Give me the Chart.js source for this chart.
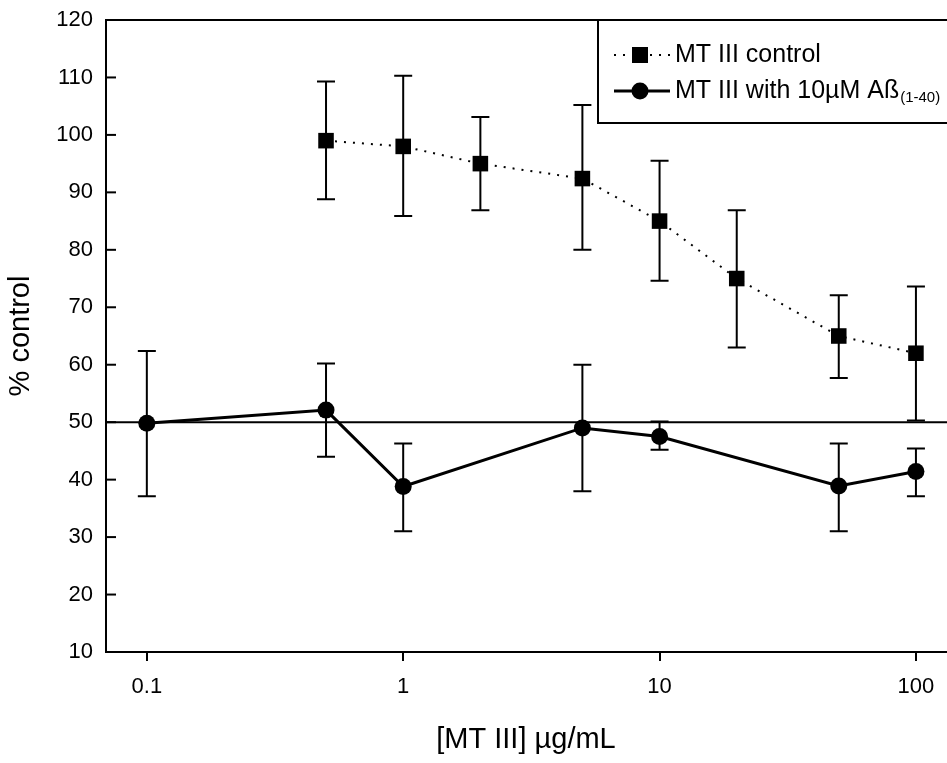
<!DOCTYPE html>
<html lang="en">
<head>
  <meta charset="UTF-8">
  <title>MT III dose response</title>
  <script src="https://cdn.jsdelivr.net/npm/chart.js"></script>
  <style>
    body { margin: 0; background: #fff; }
  </style>
</head>
<body>
  <canvas id="mtChart" width="947" height="763"></canvas>

  <script>
    // Data
    const concControl = [0.5, 1, 2, 5, 10, 20, 50, 100];
    const controlMean = [99, 98, 95, 92.4, 85, 75, 65, 62];
    const controlHigh = [109.3, 110.3, 103.1, 105.2, 95.5, 86.9, 72.1, 73.6];
    const controlLow = [88.8, 85.9, 86.9, 80.0, 74.6, 63.0, 57.7, 50.3];

    const concAbeta = [0.1, 0.5, 1, 5, 10, 50, 100];
    const abetaMean = [49.8, 52.1, 38.8, 49, 47.5, 38.9, 41.4];
    const abetaHigh = [62.4, 60.2, 46.3, 60, 50.1, 46.3, 45.4];
    const abetaLow = [37.1, 44.0, 31, 38, 45.2, 31, 37.1];

    const xTicks = [0.1, 1, 10, 100];
    const xTickLabels = ['0.1', '1', '10', '100'];
    const yTicks = [10, 20, 30, 40, 50, 60, 70, 80, 90, 100, 110, 120];
    const refLine = 50;

    const FONT = '"Liberation Sans", Arial, sans-serif';

    const toPoints = (xs, ys) => xs.map((x, i) => ({ x: x, y: ys[i] }));

    // error bars + reference line, drawn under the markers
    const errorBars = {
      id: 'errorBars',
      beforeDatasetsDraw(chart) {
        const { ctx, chartArea, scales: { x, y } } = chart;
        ctx.save();
        ctx.strokeStyle = '#000';

        // horizontal line at 50%
        ctx.lineWidth = 2;
        const yr = y.getPixelForValue(refLine);
        ctx.beginPath();
        ctx.moveTo(chartArea.left, yr);
        ctx.lineTo(chartArea.right + 2, yr);
        ctx.stroke();

        const sets = [
          [concControl, controlHigh, controlLow],
          [concAbeta, abetaHigh, abetaLow],
        ];
        sets.forEach(([xs, hi, lo]) => {
          xs.forEach((v, i) => {
            const px = x.getPixelForValue(v);
            const y1 = y.getPixelForValue(hi[i]);
            const y2 = y.getPixelForValue(lo[i]);
            ctx.lineWidth = 2;
            ctx.beginPath();
            ctx.moveTo(px, y1); ctx.lineTo(px, y2);
            ctx.moveTo(px - 9, y1); ctx.lineTo(px + 9, y1);
            ctx.moveTo(px - 9, y2); ctx.lineTo(px + 9, y2);
            ctx.stroke();
          });
        });
        ctx.restore();
      }
    };

    // frame, inward y ticks and the boxed legend
    const frameAndLegend = {
      id: 'frameAndLegend',
      afterDraw(chart) {
        const { ctx, chartArea, scales: { y } } = chart;
        ctx.save();
        ctx.strokeStyle = '#000';
        ctx.lineWidth = 2;
        ctx.strokeRect(chartArea.left, chartArea.top, chartArea.right - chartArea.left + 4, chartArea.bottom - chartArea.top);

        yTicks.forEach(v => {
          const py = y.getPixelForValue(v);
          ctx.beginPath();
          ctx.moveTo(chartArea.left, py);
          ctx.lineTo(chartArea.left + 10, py);
          ctx.stroke();
        });

        // legend box
        const lx = 598, ly = chartArea.top, lb = 123;
        ctx.fillStyle = '#fff';
        ctx.fillRect(lx, ly, chartArea.right - lx + 10, lb - ly);
        ctx.strokeRect(lx, ly, chartArea.right - lx + 10, lb - ly);

        const r1 = 55, r2 = 91;
        // row 1: dotted line + square
        ctx.lineWidth = 2;
        ctx.setLineDash([2, 7]);
        ctx.beginPath();
        ctx.moveTo(614, r1); ctx.lineTo(670, r1);
        ctx.stroke();
        ctx.setLineDash([]);
        ctx.fillStyle = '#000';
        ctx.fillRect(640 - 8, r1 - 8, 16, 16);

        // row 2: solid line + circle
        ctx.lineWidth = 3;
        ctx.beginPath();
        ctx.moveTo(614, r2); ctx.lineTo(670, r2);
        ctx.stroke();
        ctx.beginPath();
        ctx.arc(640, r2, 8.5, 0, Math.PI * 2);
        ctx.fill();

        ctx.textBaseline = 'middle';
        ctx.textAlign = 'left';
        ctx.font = '25px ' + FONT;
        ctx.fillText('MT III control', 675, r1);
        const main = 'MT III with 10µM Aß';
        ctx.fillText(main, 675, r2);
        const w = ctx.measureText(main).width;
        ctx.font = '15px ' + FONT;
        ctx.fillText('(1-40)', 675 + w + 1, r2 + 7);
        ctx.restore();
      }
    };

    const ctx = document.getElementById('mtChart').getContext('2d');
    new Chart(ctx, {
      type: 'line',
      data: {
        datasets: [
          {
            label: 'MT III control',
            data: toPoints(concControl, controlMean),
            borderColor: '#000',
            backgroundColor: '#000',
            borderWidth: 2,
            borderDash: [2, 7],
            pointStyle: 'rect',
            pointRadius: 11,
            pointBorderWidth: 0,
            tension: 0,
          },
          {
            label: 'MT III with 10µM Aß(1-40)',
            data: toPoints(concAbeta, abetaMean),
            borderColor: '#000',
            backgroundColor: '#000',
            borderWidth: 3,
            pointStyle: 'circle',
            pointRadius: 8.5,
            pointBorderWidth: 0,
            tension: 0,
          },
        ],
      },
      options: {
        responsive: false,
        animation: false,
        layout: { autoPadding: false, padding: { left: 0, top: 20, right: 1, bottom: 0 } },
        plugins: {
          legend: { display: false },
          tooltip: { enabled: false },
        },
        scales: {
          x: {
            type: 'logarithmic',
            min: 0.0693,
            max: 131,
            afterBuildTicks: scale => { scale.ticks = xTicks.map(v => ({ value: v })); },
            afterFit: scale => {
              scale.height = 111;
              scale.paddingLeft = 0;
              scale.paddingRight = 0;
            },
            grid: { display: true, drawOnChartArea: false, drawTicks: true, tickLength: 9, color: '#000', lineWidth: 2 },
            border: { display: true, color: '#000', width: 2 },
            ticks: {
              color: '#000',
              font: { family: FONT, size: 22 },
              padding: 13,
              maxRotation: 0,
              autoSkip: false,
              callback: value => xTickLabels[xTicks.indexOf(value)],
            },
            title: {
              display: true,
              text: '[MT III] µg/mL',
              color: '#000',
              font: { family: FONT, size: 29 },
              padding: { top: 0, bottom: 6 },
            },
          },
          y: {
            min: 10,
            max: 120,
            afterBuildTicks: scale => { scale.ticks = yTicks.map(v => ({ value: v })); },
            afterFit: scale => {
              scale.width = 106;
              scale.paddingTop = 0;
              scale.paddingBottom = 0;
            },
            grid: { display: false, drawTicks: false },
            border: { display: true, color: '#000', width: 2 },
            ticks: {
              color: '#000',
              font: { family: FONT, size: 22 },
              padding: 13,
            },
            title: {
              display: true,
              text: '% control',
              color: '#000',
              font: { family: FONT, size: 29 },
              padding: { top: 4, bottom: 0 },
            },
          },
        },
      },
      plugins: [errorBars, frameAndLegend],
    });
  </script>
</body>
</html>
